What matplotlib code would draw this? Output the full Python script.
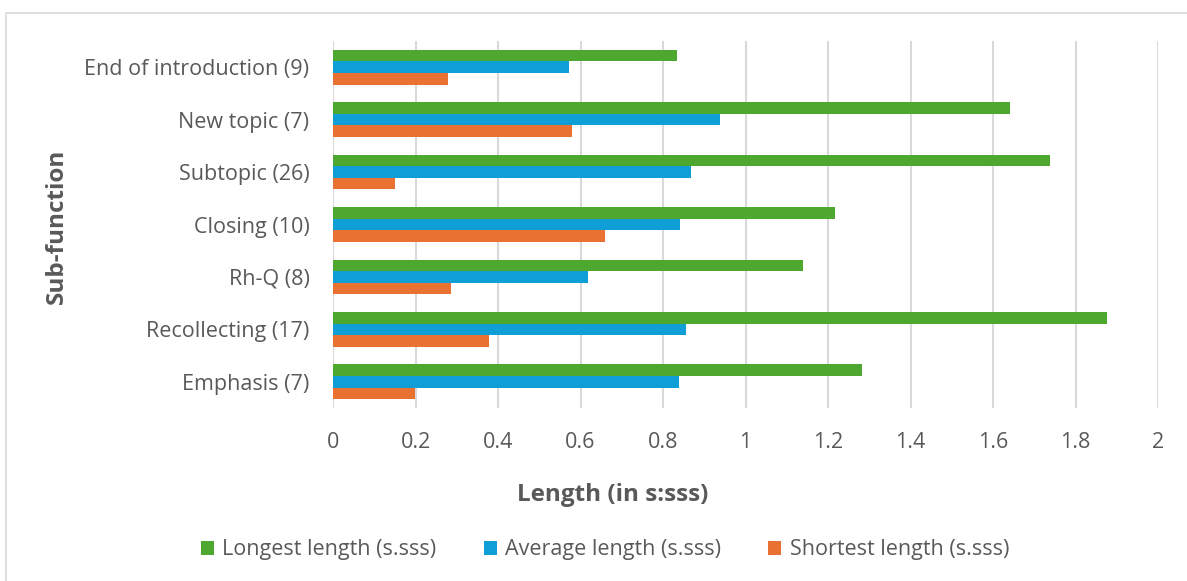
import matplotlib
matplotlib.use("Agg")
import matplotlib.pyplot as plt
from matplotlib.patches import Rectangle
import numpy as np

categories = ["End of introduction (9)", "New topic (7)", "Subtopic (26)", "Closing (10)",
              "Rh-Q (8)", "Recollecting (17)", "Emphasis (7)"]
longest = [0.834, 1.641, 1.738, 1.216, 1.139, 1.876, 1.282]
average = [0.573, 0.938, 0.867, 0.840, 0.619, 0.856, 0.839]
shortest = [0.278, 0.580, 0.151, 0.660, 0.286, 0.379, 0.198]

series = [("Longest length (s.sss)", longest, "#4EA72E"),
          ("Average length (s.sss)", average, "#0F9ED5"),
          ("Shortest length (s.sss)", shortest, "#E97132")]

plt.rcParams['font.family'] = ['Open Sans', 'DejaVu Sans']
text_color = "#595959"

W, H = 1187, 581
fig = plt.figure(figsize=(W / 100, H / 100), dpi=100)
fig.patches.append(Rectangle((6 / W, -0.01), 1.0, 1 - 13 / H + 0.01, transform=fig.transFigure,
                             fill=False, edgecolor="#D9D9D9", linewidth=1.2))

ax = fig.add_axes([333 / W, 1 - 408 / H, 825 / W, 367 / H])

y = np.arange(len(categories))
h = 0.22
for i, (name, vals, color) in enumerate(series):
    ax.barh(y + (i - 1) * h, vals, height=h, color=color, label=name, zorder=3)

ax.set_xlim(0, 2)
ax.set_ylim(len(categories) - 0.5, -0.5)
ax.set_xticks(np.arange(0, 2.01, 0.2))
ax.set_xticklabels(["0", "0.2", "0.4", "0.6", "0.8", "1", "1.2", "1.4", "1.6", "1.8", "2"])
ax.set_yticks(y)
ax.set_yticklabels(categories)
ax.tick_params(axis="both", length=0, labelsize=15.5, labelcolor=text_color)
ax.tick_params(axis="x", pad=17)
ax.tick_params(axis="y", pad=17)
ax.grid(axis="x", color="#D9D9D9", linewidth=1.5, zorder=0)
for s in ax.spines.values():
    s.set_visible(False)

fig.text(613 / W, 1 - 495 / H, "Length (in s:sss)", ha="center", va="center",
         fontsize=17.5, fontweight="bold", color=text_color)
fig.text(57 / W, 1 - 226 / H, "Sub-function", ha="center", va="center", rotation=90,
         fontsize=17.5, fontweight="bold", color=text_color)

fig.legend(loc="center", bbox_to_anchor=(605 / W, 1 - 550 / H), ncol=3, frameon=False,
           fontsize=15.5, labelcolor=text_color, handlelength=0.6, handleheight=0.6,
           handletextpad=0.4, columnspacing=2.2)

fig.savefig("out.png", dpi=100)
